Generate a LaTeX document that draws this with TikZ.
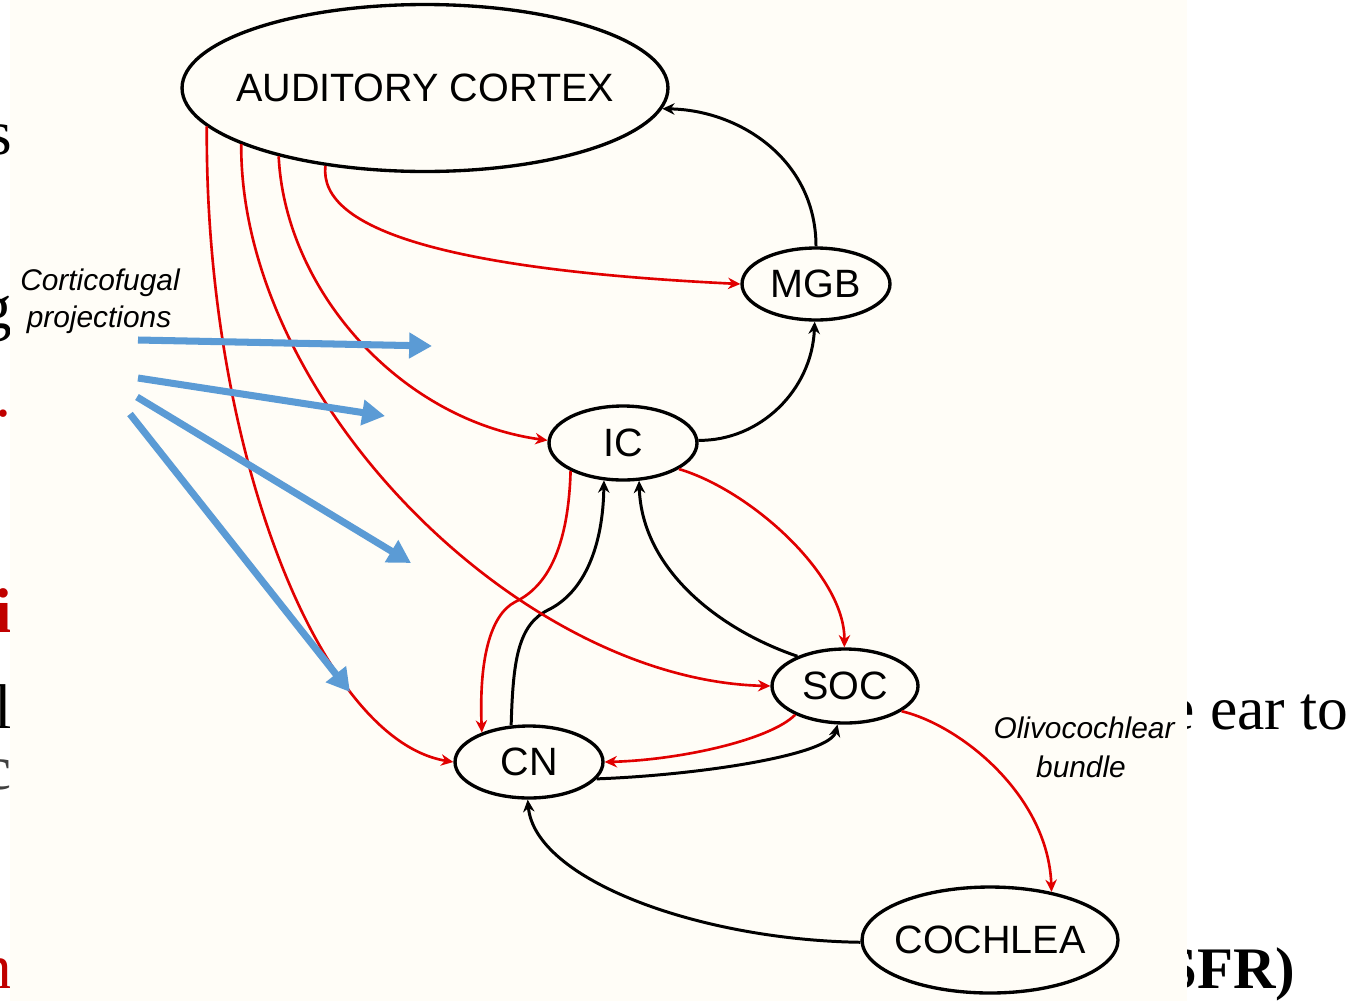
\documentclass[tikz,border=0pt]{standalone}
\usepackage{fontspec}
\setmainfont{Liberation Serif}
\newfontfamily\labfont{Liberation Sans}
\usetikzlibrary{shapes.geometric,arrows.meta}
\definecolor{cream}{RGB}{255,253,247}
\definecolor{redline}{RGB}{225,0,0}
\definecolor{slidered}{RGB}{192,0,0}
\definecolor{bluearrow}{RGB}{91,155,213}
\begin{document}
\begin{tikzpicture}[x=0.02cm,y=-0.02cm,
  region/.style={ellipse,draw=black,line width=1.9pt,inner sep=0pt,fill=cream,
     label={[font=\labfont\fontsize{22.5}{26}\selectfont,text=black]center:#1}},
  blk/.style={draw=black,line width=1.7pt,-{Stealth[length=7pt,width=6.5pt]}},
  rd/.style={draw=redline,line width=1.5pt,-{Stealth[length=7pt,width=6.5pt]}},
  bluearr/.style={draw=bluearrow,line width=4pt,-{Triangle[length=13pt,width=14pt]}},
  slidetxt/.style={inner sep=0pt,font=\fontsize{36}{40}\selectfont},
  smalllab/.style={inner sep=0pt,font=\labfont\itshape\fontsize{17}{20}\selectfont,text=black}
]
\useasboundingbox (0,0) rectangle (1364,1001);
\fill[white] (0,0) rectangle (1364,1001);
% slide text fragments behind the picture
\node[slidetxt,anchor=base east] (ls1) at (12,154) {s};
\node[slidetxt,anchor=base east] (ls2) at (12,328) {g};
\node[slidetxt,anchor=base east,text=slidered] (ls3) at (12,416) {.};
\node[slidetxt,anchor=base east,text=slidered,font=\bfseries\fontsize{36}{40}\selectfont] (ls4) at (12,632) {i};
\node[slidetxt,anchor=base east] (ls5) at (12,728) {l};
\node[slidetxt,anchor=base east,text=black!75] (ls6) at (12,789) {c};
\node[slidetxt,anchor=base east,text=slidered] (ls7) at (12,988) {n};
\node[inner sep=0pt,anchor=base west,font=\fontsize{35}{40}\selectfont] (rt1) at (1167,729) {e ear to};
\node[inner sep=0pt,anchor=base west,font=\bfseries\fontsize{33.5}{40}\selectfont] (rt2) at (1164,988) {SFR)};
% picture background
\fill[cream] (10,0) rectangle (1187,1001);
% regions
\node[region=AUDITORY CORTEX,minimum width=9.72cm,minimum height=3.34cm] (ac) at (425,88) {};
\node[region=MGB,minimum width=2.96cm,minimum height=1.44cm] (mgb) at (816,284) {};
\node[region=IC,minimum width=2.96cm,minimum height=1.48cm] (ic) at (623,443) {};
\node[region=SOC,minimum width=2.92cm,minimum height=1.48cm] (soc) at (845,686) {};
\node[region=CN,minimum width=2.96cm,minimum height=1.44cm] (cn) at (529,762) {};
\node[region=COCHLEA,minimum width=5.12cm,minimum height=2.12cm] (coch) at (990,940) {};
% ascending (black)
\draw[blk] (mgb.90) .. controls (816,160) and (740,110) .. (ac.-5);
\draw[blk] (ic.2) .. controls (760,441) and (812,390) .. (mgb.-92);
\draw[blk] (cn.116) .. controls (513,660) and (518,625) .. (548,610) .. controls (585,592) and (603,545) .. (ic.-117);
\draw[blk] (soc.148) .. controls (720,630) and (642,570) .. (ic.-67.5);
\draw[blk] (cn.-14) .. controls (700,775) and (830,755) .. (soc.-101);
\draw[blk] (coch.181) .. controls (700,940) and (535,880) .. (cn.-92);
% descending (red)
\draw[rd] (ac.-142.5) .. controls (318,230) and (450,270) .. (mgb.180);
\draw[rd] (ac.-155) .. controls (285,290) and (400,420) .. (ic.178);
\draw[rd] (ac.-163.7) .. controls (240,400) and (520,680) .. (soc.180);
\draw[rd] (ac.-170.7) .. controls (205,450) and (320,740) .. (cn.180);
\draw[rd] (ic.-25) .. controls (750,490) and (845,575) .. (soc.91);
\draw[rd] (ic.-152) .. controls (568,560) and (540,590) .. (515,602) .. controls (490,615) and (479,660) .. (cn.148);
\draw[rd] (soc.-150.7) .. controls (770,740) and (680,760) .. (cn.0);
\draw[rd] (soc.-24) .. controls (960,725) and (1048,795) .. (coch.38);
% small labels
\node[smalllab] (cf1) at (100,283) {Corticofugal};
\node[smalllab] (cf2) at (99,320) {projections};
\node[smalllab] (ob1) at (1084,728) {Olivocochlear};
\node[smalllab] (ob2) at (1081,767) {bundle};
% blue pointer arrows
\coordinate (b1s) at (138,340); \coordinate (b1e) at (432,346);
\coordinate (b2s) at (138,378); \coordinate (b2e) at (385,416);
\coordinate (b3s) at (137,397); \coordinate (b3e) at (411,563);
\coordinate (b4s) at (130,414); \coordinate (b4e) at (350,692);
\draw[bluearr] (b1s) -- (b1e);
\draw[bluearr] (b2s) -- (b2e);
\draw[bluearr] (b3s) -- (b3e);
\draw[bluearr] (b4s) -- (b4e);
\end{tikzpicture}
\end{document}
